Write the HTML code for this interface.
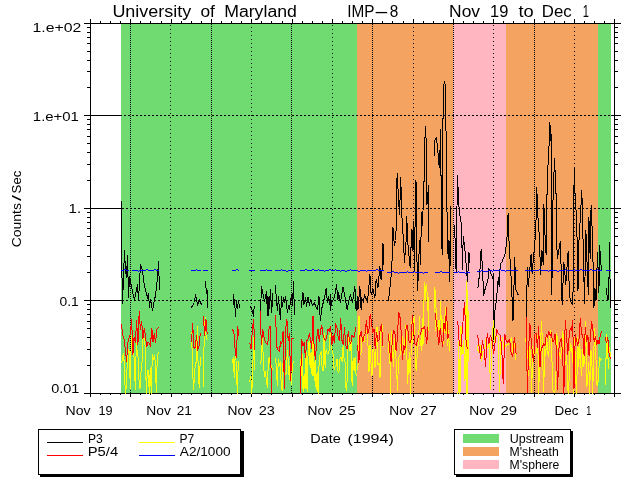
<!DOCTYPE html>
<html><head><meta charset="utf-8"><title>IMP-8 plot</title>
<style>html,body{margin:0;padding:0;background:#fff;overflow:hidden}svg{display:block}</style></head>
<body>
<svg width="640" height="480" viewBox="0 0 640 480" shape-rendering="crispEdges">
<rect x="0" y="0" width="640" height="480" fill="#fff"/>
<rect x="121" y="23" width="236" height="370" fill="#70DB70"/>
<rect x="357" y="23" width="96" height="370" fill="#F4A460"/>
<rect x="453" y="23" width="53" height="370" fill="#FFB6C1"/>
<rect x="506" y="23" width="92" height="370" fill="#F4A460"/>
<rect x="598" y="23" width="13" height="370" fill="#70DB70"/>
<rect x="84" y="115" width="38" height="1" fill="#000"/>
<path d="M124 115.5h2M128 115.5h2M132 115.5h2M136 115.5h2M140 115.5h2M144 115.5h2M148 115.5h2M152 115.5h2M156 115.5h2M160 115.5h2M164 115.5h2M168 115.5h2M172 115.5h2M176 115.5h2M180 115.5h2M184 115.5h2M188 115.5h2M192 115.5h2M196 115.5h2M200 115.5h2M204 115.5h2M208 115.5h2M212 115.5h2M216 115.5h2M220 115.5h2M224 115.5h2M228 115.5h2M232 115.5h2M236 115.5h2M240 115.5h2M244 115.5h2M248 115.5h2M252 115.5h2M256 115.5h2M260 115.5h2M264 115.5h2M268 115.5h2M272 115.5h2M276 115.5h2M280 115.5h2M284 115.5h2M288 115.5h2M292 115.5h2M296 115.5h2M300 115.5h2M304 115.5h2M308 115.5h2M312 115.5h2M316 115.5h2M320 115.5h2M324 115.5h2M328 115.5h2M332 115.5h2M336 115.5h2M340 115.5h2M344 115.5h2M348 115.5h2M352 115.5h2M356 115.5h2M360 115.5h2M364 115.5h2M368 115.5h2M372 115.5h2M376 115.5h2M380 115.5h2M384 115.5h2M388 115.5h2M392 115.5h2M396 115.5h2M400 115.5h2M404 115.5h2M408 115.5h2M412 115.5h2M416 115.5h2M420 115.5h2M424 115.5h2M428 115.5h2M432 115.5h2M436 115.5h2M440 115.5h2M444 115.5h2M448 115.5h2M452 115.5h2M456 115.5h2M460 115.5h2M464 115.5h2M468 115.5h2M472 115.5h2M476 115.5h2M480 115.5h2M484 115.5h2M488 115.5h2M492 115.5h2M496 115.5h2M500 115.5h2M504 115.5h2M508 115.5h2M512 115.5h2M516 115.5h2M520 115.5h2M524 115.5h2M528 115.5h2M532 115.5h2M536 115.5h2M540 115.5h2M544 115.5h2M548 115.5h2M552 115.5h2M556 115.5h2M560 115.5h2M564 115.5h2M568 115.5h2M572 115.5h2M576 115.5h2M580 115.5h2M584 115.5h2M588 115.5h2M592 115.5h2M596 115.5h2M600 115.5h2M604 115.5h2M608 115.5h2" stroke="#000" stroke-width="1" fill="none"/>
<rect x="611" y="115" width="10" height="1" fill="#000"/>
<rect x="84" y="208" width="40" height="1" fill="#000"/>
<path d="M126 208.5h2M130 208.5h2M134 208.5h2M138 208.5h2M142 208.5h2M146 208.5h2M150 208.5h2M154 208.5h2M158 208.5h2M162 208.5h2M166 208.5h2M170 208.5h2M174 208.5h2M178 208.5h2M182 208.5h2M186 208.5h2M190 208.5h2M194 208.5h2M198 208.5h2M202 208.5h2M206 208.5h2M210 208.5h2M214 208.5h2M218 208.5h2M222 208.5h2M226 208.5h2M230 208.5h2M234 208.5h2M238 208.5h2M242 208.5h2M246 208.5h2M250 208.5h2M254 208.5h2M258 208.5h2M262 208.5h2M266 208.5h2M270 208.5h2M274 208.5h2M278 208.5h2M282 208.5h2M286 208.5h2M290 208.5h2M294 208.5h2M298 208.5h2M302 208.5h2M306 208.5h2M310 208.5h2M314 208.5h2M318 208.5h2M322 208.5h2M326 208.5h2M330 208.5h2M334 208.5h2M338 208.5h2M342 208.5h2M346 208.5h2M350 208.5h2M354 208.5h2M358 208.5h2M362 208.5h2M366 208.5h2M370 208.5h2M374 208.5h2M378 208.5h2M382 208.5h2M386 208.5h2M390 208.5h2M394 208.5h2M398 208.5h2M402 208.5h2M406 208.5h2M410 208.5h2M414 208.5h2M418 208.5h2M422 208.5h2M426 208.5h2M430 208.5h2M434 208.5h2M438 208.5h2M442 208.5h2M446 208.5h2M450 208.5h2M454 208.5h2M458 208.5h2M462 208.5h2M466 208.5h2M470 208.5h2M474 208.5h2M478 208.5h2M482 208.5h2M486 208.5h2M490 208.5h2M494 208.5h2M498 208.5h2M502 208.5h2M506 208.5h2M510 208.5h2M514 208.5h2M518 208.5h2M522 208.5h2M526 208.5h2M530 208.5h2M534 208.5h2M538 208.5h2M542 208.5h2M546 208.5h2M550 208.5h2M554 208.5h2M558 208.5h2M562 208.5h2M566 208.5h2M570 208.5h2M574 208.5h2M578 208.5h2M582 208.5h2M586 208.5h2M590 208.5h2M594 208.5h2M598 208.5h2M602 208.5h2M606 208.5h2M610 208.5h2" stroke="#000" stroke-width="1" fill="none"/>
<rect x="611" y="208" width="10" height="1" fill="#000"/>
<rect x="84" y="300" width="40" height="1" fill="#000"/>
<path d="M126 300.5h2M130 300.5h2M134 300.5h2M138 300.5h2M142 300.5h2M146 300.5h2M150 300.5h2M154 300.5h2M158 300.5h2M162 300.5h2M166 300.5h2M170 300.5h2M174 300.5h2M178 300.5h2M182 300.5h2M186 300.5h2M190 300.5h2M194 300.5h2M198 300.5h2M202 300.5h2M206 300.5h2M210 300.5h2M214 300.5h2M218 300.5h2M222 300.5h2M226 300.5h2M230 300.5h2M234 300.5h2M238 300.5h2M242 300.5h2M246 300.5h2M250 300.5h2M254 300.5h2M258 300.5h2M262 300.5h2M266 300.5h2M270 300.5h2M274 300.5h2M278 300.5h2M282 300.5h2M286 300.5h2M290 300.5h2M294 300.5h2M298 300.5h2M302 300.5h2M306 300.5h2M310 300.5h2M314 300.5h2M318 300.5h2M322 300.5h2M326 300.5h2M330 300.5h2M334 300.5h2M338 300.5h2M342 300.5h2M346 300.5h2M350 300.5h2M354 300.5h2M358 300.5h2M362 300.5h2M366 300.5h2M370 300.5h2M374 300.5h2M378 300.5h2M382 300.5h2M386 300.5h2M390 300.5h2M394 300.5h2M398 300.5h2M402 300.5h2M406 300.5h2M410 300.5h2M414 300.5h2M418 300.5h2M422 300.5h2M426 300.5h2M430 300.5h2M434 300.5h2M438 300.5h2M442 300.5h2M446 300.5h2M450 300.5h2M454 300.5h2M458 300.5h2M462 300.5h2M466 300.5h2M470 300.5h2M474 300.5h2M478 300.5h2M482 300.5h2M486 300.5h2M490 300.5h2M494 300.5h2M498 300.5h2M502 300.5h2M506 300.5h2M510 300.5h2M514 300.5h2M518 300.5h2M522 300.5h2M526 300.5h2M530 300.5h2M534 300.5h2M538 300.5h2M542 300.5h2M546 300.5h2M550 300.5h2M554 300.5h2M558 300.5h2M562 300.5h2M566 300.5h2M570 300.5h2M574 300.5h2M578 300.5h2M582 300.5h2M586 300.5h2M590 300.5h2M594 300.5h2M598 300.5h2M602 300.5h2M606 300.5h2M610 300.5h2" stroke="#000" stroke-width="1" fill="none"/>
<rect x="611" y="300" width="10" height="1" fill="#000"/>
<path d="M130.5 24v1M130.5 26v1M130.5 28v1M130.5 30v1M130.5 32v1M130.5 34v1M130.5 36v1M130.5 38v1M130.5 40v1M130.5 42v1M130.5 44v1M130.5 46v1M130.5 48v1M130.5 50v1M130.5 52v1M130.5 54v1M130.5 56v1M130.5 58v1M130.5 60v1M130.5 62v1M130.5 64v1M130.5 66v1M130.5 68v1M130.5 70v1M130.5 72v1M130.5 74v1M130.5 76v1M130.5 78v1M130.5 80v1M130.5 82v1M130.5 84v1M130.5 86v1M130.5 88v1M130.5 90v1M130.5 92v1M130.5 94v1M130.5 96v1M130.5 98v1M130.5 100v1M130.5 102v1M130.5 104v1M130.5 106v1M130.5 108v1M130.5 110v1M130.5 112v1M130.5 114v1M130.5 116v1M130.5 118v1M130.5 120v1M130.5 122v1M130.5 124v1M130.5 126v1M130.5 128v1M130.5 130v1M130.5 132v1M130.5 134v1M130.5 136v1M130.5 138v1M130.5 140v1M130.5 142v1M130.5 144v1M130.5 146v1M130.5 148v1M130.5 150v1M130.5 152v1M130.5 154v1M130.5 156v1M130.5 158v1M130.5 160v1M130.5 162v1M130.5 164v1M130.5 166v1M130.5 168v1M130.5 170v1M130.5 172v1M130.5 174v1M130.5 176v1M130.5 178v1M130.5 180v1M130.5 182v1M130.5 184v1M130.5 186v1M130.5 188v1M130.5 190v1M130.5 192v1M130.5 194v1M130.5 196v1M130.5 198v1M130.5 200v1M130.5 202v1M130.5 204v1M130.5 206v1M130.5 208v1M130.5 210v1M130.5 212v1M130.5 214v1M130.5 216v1M130.5 218v1M130.5 220v1M130.5 222v1M130.5 224v1M130.5 226v1M130.5 228v1M130.5 230v1M130.5 232v1M130.5 234v1M130.5 236v1M130.5 238v1M130.5 240v1M130.5 242v1M130.5 244v1M130.5 246v1M130.5 248v1M130.5 250v1M130.5 252v1M130.5 254v1M130.5 256v1M130.5 258v1M130.5 260v1M130.5 262v1M130.5 264v1M130.5 266v1M130.5 268v1M130.5 270v1M130.5 272v1M130.5 274v1M130.5 276v1M130.5 278v1M130.5 280v1M130.5 282v1M130.5 284v1M130.5 286v1M130.5 288v1M130.5 290v1M130.5 292v1M130.5 294v1M130.5 296v1M130.5 298v1M130.5 300v1M130.5 302v1M130.5 304v1M130.5 306v1M130.5 308v1M130.5 310v1M130.5 312v1M130.5 314v1M130.5 316v1M130.5 318v1M130.5 320v1M130.5 322v1M130.5 324v1M130.5 326v1M130.5 328v1M130.5 330v1M130.5 332v1M130.5 334v1M130.5 336v1M130.5 338v1M130.5 340v1M130.5 342v1M130.5 344v1M130.5 346v1M130.5 348v1M130.5 350v1M130.5 352v1M130.5 354v1M130.5 356v1M130.5 358v1M130.5 360v1M130.5 362v1M130.5 364v1M130.5 366v1M130.5 368v1M130.5 370v1M130.5 372v1M130.5 374v1M130.5 376v1M130.5 378v1M130.5 380v1M130.5 382v1M130.5 384v1M130.5 386v1M130.5 388v1M130.5 390v1M130.5 392v1" stroke="#000" stroke-width="1" fill="none"/>
<path d="M170.5 25v1M170.5 29v1M170.5 33v1M170.5 37v1M170.5 41v1M170.5 45v1M170.5 49v1M170.5 53v1M170.5 57v1M170.5 61v1M170.5 65v1M170.5 69v1M170.5 73v1M170.5 77v1M170.5 81v1M170.5 85v1M170.5 89v1M170.5 93v1M170.5 97v1M170.5 101v1M170.5 105v1M170.5 109v1M170.5 113v1M170.5 117v1M170.5 121v1M170.5 125v1M170.5 129v1M170.5 133v1M170.5 137v1M170.5 141v1M170.5 145v1M170.5 149v1M170.5 153v1M170.5 157v1M170.5 161v1M170.5 165v1M170.5 169v1M170.5 173v1M170.5 177v1M170.5 181v1M170.5 185v1M170.5 189v1M170.5 193v1M170.5 197v1M170.5 201v1M170.5 205v1M170.5 209v1M170.5 213v1M170.5 217v1M170.5 221v1M170.5 225v1M170.5 229v1M170.5 233v1M170.5 237v1M170.5 241v1M170.5 245v1M170.5 249v1M170.5 253v1M170.5 257v1M170.5 261v1M170.5 265v1M170.5 269v1M170.5 273v1M170.5 277v1M170.5 281v1M170.5 285v1M170.5 289v1M170.5 293v1M170.5 297v1M170.5 301v1M170.5 305v1M170.5 309v1M170.5 313v1M170.5 317v1M170.5 321v1M170.5 325v1M170.5 329v1M170.5 333v1M170.5 337v1M170.5 341v1M170.5 345v1M170.5 349v1M170.5 353v1M170.5 357v1M170.5 361v1M170.5 365v1M170.5 369v1M170.5 373v1M170.5 377v1M170.5 381v1M170.5 385v1M170.5 389v1" stroke="#000" stroke-width="1" fill="none"/>
<path d="M211.5 24v1M211.5 26v1M211.5 28v1M211.5 30v1M211.5 32v1M211.5 34v1M211.5 36v1M211.5 38v1M211.5 40v1M211.5 42v1M211.5 44v1M211.5 46v1M211.5 48v1M211.5 50v1M211.5 52v1M211.5 54v1M211.5 56v1M211.5 58v1M211.5 60v1M211.5 62v1M211.5 64v1M211.5 66v1M211.5 68v1M211.5 70v1M211.5 72v1M211.5 74v1M211.5 76v1M211.5 78v1M211.5 80v1M211.5 82v1M211.5 84v1M211.5 86v1M211.5 88v1M211.5 90v1M211.5 92v1M211.5 94v1M211.5 96v1M211.5 98v1M211.5 100v1M211.5 102v1M211.5 104v1M211.5 106v1M211.5 108v1M211.5 110v1M211.5 112v1M211.5 114v1M211.5 116v1M211.5 118v1M211.5 120v1M211.5 122v1M211.5 124v1M211.5 126v1M211.5 128v1M211.5 130v1M211.5 132v1M211.5 134v1M211.5 136v1M211.5 138v1M211.5 140v1M211.5 142v1M211.5 144v1M211.5 146v1M211.5 148v1M211.5 150v1M211.5 152v1M211.5 154v1M211.5 156v1M211.5 158v1M211.5 160v1M211.5 162v1M211.5 164v1M211.5 166v1M211.5 168v1M211.5 170v1M211.5 172v1M211.5 174v1M211.5 176v1M211.5 178v1M211.5 180v1M211.5 182v1M211.5 184v1M211.5 186v1M211.5 188v1M211.5 190v1M211.5 192v1M211.5 194v1M211.5 196v1M211.5 198v1M211.5 200v1M211.5 202v1M211.5 204v1M211.5 206v1M211.5 208v1M211.5 210v1M211.5 212v1M211.5 214v1M211.5 216v1M211.5 218v1M211.5 220v1M211.5 222v1M211.5 224v1M211.5 226v1M211.5 228v1M211.5 230v1M211.5 232v1M211.5 234v1M211.5 236v1M211.5 238v1M211.5 240v1M211.5 242v1M211.5 244v1M211.5 246v1M211.5 248v1M211.5 250v1M211.5 252v1M211.5 254v1M211.5 256v1M211.5 258v1M211.5 260v1M211.5 262v1M211.5 264v1M211.5 266v1M211.5 268v1M211.5 270v1M211.5 272v1M211.5 274v1M211.5 276v1M211.5 278v1M211.5 280v1M211.5 282v1M211.5 284v1M211.5 286v1M211.5 288v1M211.5 290v1M211.5 292v1M211.5 294v1M211.5 296v1M211.5 298v1M211.5 300v1M211.5 302v1M211.5 304v1M211.5 306v1M211.5 308v1M211.5 310v1M211.5 312v1M211.5 314v1M211.5 316v1M211.5 318v1M211.5 320v1M211.5 322v1M211.5 324v1M211.5 326v1M211.5 328v1M211.5 330v1M211.5 332v1M211.5 334v1M211.5 336v1M211.5 338v1M211.5 340v1M211.5 342v1M211.5 344v1M211.5 346v1M211.5 348v1M211.5 350v1M211.5 352v1M211.5 354v1M211.5 356v1M211.5 358v1M211.5 360v1M211.5 362v1M211.5 364v1M211.5 366v1M211.5 368v1M211.5 370v1M211.5 372v1M211.5 374v1M211.5 376v1M211.5 378v1M211.5 380v1M211.5 382v1M211.5 384v1M211.5 386v1M211.5 388v1M211.5 390v1M211.5 392v1" stroke="#000" stroke-width="1" fill="none"/>
<path d="M251.5 27v1M251.5 31v1M251.5 35v1M251.5 39v1M251.5 43v1M251.5 47v1M251.5 51v1M251.5 55v1M251.5 59v1M251.5 63v1M251.5 67v1M251.5 71v1M251.5 75v1M251.5 79v1M251.5 83v1M251.5 87v1M251.5 91v1M251.5 95v1M251.5 99v1M251.5 103v1M251.5 107v1M251.5 111v1M251.5 115v1M251.5 119v1M251.5 123v1M251.5 127v1M251.5 131v1M251.5 135v1M251.5 139v1M251.5 143v1M251.5 147v1M251.5 151v1M251.5 155v1M251.5 159v1M251.5 163v1M251.5 167v1M251.5 171v1M251.5 175v1M251.5 179v1M251.5 183v1M251.5 187v1M251.5 191v1M251.5 195v1M251.5 199v1M251.5 203v1M251.5 207v1M251.5 211v1M251.5 215v1M251.5 219v1M251.5 223v1M251.5 227v1M251.5 231v1M251.5 235v1M251.5 239v1M251.5 243v1M251.5 247v1M251.5 251v1M251.5 255v1M251.5 259v1M251.5 263v1M251.5 267v1M251.5 271v1M251.5 275v1M251.5 279v1M251.5 283v1M251.5 287v1M251.5 291v1M251.5 295v1M251.5 299v1M251.5 303v1M251.5 307v1M251.5 311v1M251.5 315v1M251.5 319v1M251.5 323v1M251.5 327v1M251.5 331v1M251.5 335v1M251.5 339v1M251.5 343v1M251.5 347v1M251.5 351v1M251.5 355v1M251.5 359v1M251.5 363v1M251.5 367v1M251.5 371v1M251.5 375v1M251.5 379v1M251.5 383v1M251.5 387v1M251.5 391v1" stroke="#000" stroke-width="1" fill="none"/>
<path d="M291.5 24v1M291.5 26v1M291.5 28v1M291.5 30v1M291.5 32v1M291.5 34v1M291.5 36v1M291.5 38v1M291.5 40v1M291.5 42v1M291.5 44v1M291.5 46v1M291.5 48v1M291.5 50v1M291.5 52v1M291.5 54v1M291.5 56v1M291.5 58v1M291.5 60v1M291.5 62v1M291.5 64v1M291.5 66v1M291.5 68v1M291.5 70v1M291.5 72v1M291.5 74v1M291.5 76v1M291.5 78v1M291.5 80v1M291.5 82v1M291.5 84v1M291.5 86v1M291.5 88v1M291.5 90v1M291.5 92v1M291.5 94v1M291.5 96v1M291.5 98v1M291.5 100v1M291.5 102v1M291.5 104v1M291.5 106v1M291.5 108v1M291.5 110v1M291.5 112v1M291.5 114v1M291.5 116v1M291.5 118v1M291.5 120v1M291.5 122v1M291.5 124v1M291.5 126v1M291.5 128v1M291.5 130v1M291.5 132v1M291.5 134v1M291.5 136v1M291.5 138v1M291.5 140v1M291.5 142v1M291.5 144v1M291.5 146v1M291.5 148v1M291.5 150v1M291.5 152v1M291.5 154v1M291.5 156v1M291.5 158v1M291.5 160v1M291.5 162v1M291.5 164v1M291.5 166v1M291.5 168v1M291.5 170v1M291.5 172v1M291.5 174v1M291.5 176v1M291.5 178v1M291.5 180v1M291.5 182v1M291.5 184v1M291.5 186v1M291.5 188v1M291.5 190v1M291.5 192v1M291.5 194v1M291.5 196v1M291.5 198v1M291.5 200v1M291.5 202v1M291.5 204v1M291.5 206v1M291.5 208v1M291.5 210v1M291.5 212v1M291.5 214v1M291.5 216v1M291.5 218v1M291.5 220v1M291.5 222v1M291.5 224v1M291.5 226v1M291.5 228v1M291.5 230v1M291.5 232v1M291.5 234v1M291.5 236v1M291.5 238v1M291.5 240v1M291.5 242v1M291.5 244v1M291.5 246v1M291.5 248v1M291.5 250v1M291.5 252v1M291.5 254v1M291.5 256v1M291.5 258v1M291.5 260v1M291.5 262v1M291.5 264v1M291.5 266v1M291.5 268v1M291.5 270v1M291.5 272v1M291.5 274v1M291.5 276v1M291.5 278v1M291.5 280v1M291.5 282v1M291.5 284v1M291.5 286v1M291.5 288v1M291.5 290v1M291.5 292v1M291.5 294v1M291.5 296v1M291.5 298v1M291.5 300v1M291.5 302v1M291.5 304v1M291.5 306v1M291.5 308v1M291.5 310v1M291.5 312v1M291.5 314v1M291.5 316v1M291.5 318v1M291.5 320v1M291.5 322v1M291.5 324v1M291.5 326v1M291.5 328v1M291.5 330v1M291.5 332v1M291.5 334v1M291.5 336v1M291.5 338v1M291.5 340v1M291.5 342v1M291.5 344v1M291.5 346v1M291.5 348v1M291.5 350v1M291.5 352v1M291.5 354v1M291.5 356v1M291.5 358v1M291.5 360v1M291.5 362v1M291.5 364v1M291.5 366v1M291.5 368v1M291.5 370v1M291.5 372v1M291.5 374v1M291.5 376v1M291.5 378v1M291.5 380v1M291.5 382v1M291.5 384v1M291.5 386v1M291.5 388v1M291.5 390v1M291.5 392v1" stroke="#000" stroke-width="1" fill="none"/>
<path d="M332.5 25v1M332.5 29v1M332.5 33v1M332.5 37v1M332.5 41v1M332.5 45v1M332.5 49v1M332.5 53v1M332.5 57v1M332.5 61v1M332.5 65v1M332.5 69v1M332.5 73v1M332.5 77v1M332.5 81v1M332.5 85v1M332.5 89v1M332.5 93v1M332.5 97v1M332.5 101v1M332.5 105v1M332.5 109v1M332.5 113v1M332.5 117v1M332.5 121v1M332.5 125v1M332.5 129v1M332.5 133v1M332.5 137v1M332.5 141v1M332.5 145v1M332.5 149v1M332.5 153v1M332.5 157v1M332.5 161v1M332.5 165v1M332.5 169v1M332.5 173v1M332.5 177v1M332.5 181v1M332.5 185v1M332.5 189v1M332.5 193v1M332.5 197v1M332.5 201v1M332.5 205v1M332.5 209v1M332.5 213v1M332.5 217v1M332.5 221v1M332.5 225v1M332.5 229v1M332.5 233v1M332.5 237v1M332.5 241v1M332.5 245v1M332.5 249v1M332.5 253v1M332.5 257v1M332.5 261v1M332.5 265v1M332.5 269v1M332.5 273v1M332.5 277v1M332.5 281v1M332.5 285v1M332.5 289v1M332.5 293v1M332.5 297v1M332.5 301v1M332.5 305v1M332.5 309v1M332.5 313v1M332.5 317v1M332.5 321v1M332.5 325v1M332.5 329v1M332.5 333v1M332.5 337v1M332.5 341v1M332.5 345v1M332.5 349v1M332.5 353v1M332.5 357v1M332.5 361v1M332.5 365v1M332.5 369v1M332.5 373v1M332.5 377v1M332.5 381v1M332.5 385v1M332.5 389v1" stroke="#000" stroke-width="1" fill="none"/>
<path d="M372.5 24v1M372.5 26v1M372.5 28v1M372.5 30v1M372.5 32v1M372.5 34v1M372.5 36v1M372.5 38v1M372.5 40v1M372.5 42v1M372.5 44v1M372.5 46v1M372.5 48v1M372.5 50v1M372.5 52v1M372.5 54v1M372.5 56v1M372.5 58v1M372.5 60v1M372.5 62v1M372.5 64v1M372.5 66v1M372.5 68v1M372.5 70v1M372.5 72v1M372.5 74v1M372.5 76v1M372.5 78v1M372.5 80v1M372.5 82v1M372.5 84v1M372.5 86v1M372.5 88v1M372.5 90v1M372.5 92v1M372.5 94v1M372.5 96v1M372.5 98v1M372.5 100v1M372.5 102v1M372.5 104v1M372.5 106v1M372.5 108v1M372.5 110v1M372.5 112v1M372.5 114v1M372.5 116v1M372.5 118v1M372.5 120v1M372.5 122v1M372.5 124v1M372.5 126v1M372.5 128v1M372.5 130v1M372.5 132v1M372.5 134v1M372.5 136v1M372.5 138v1M372.5 140v1M372.5 142v1M372.5 144v1M372.5 146v1M372.5 148v1M372.5 150v1M372.5 152v1M372.5 154v1M372.5 156v1M372.5 158v1M372.5 160v1M372.5 162v1M372.5 164v1M372.5 166v1M372.5 168v1M372.5 170v1M372.5 172v1M372.5 174v1M372.5 176v1M372.5 178v1M372.5 180v1M372.5 182v1M372.5 184v1M372.5 186v1M372.5 188v1M372.5 190v1M372.5 192v1M372.5 194v1M372.5 196v1M372.5 198v1M372.5 200v1M372.5 202v1M372.5 204v1M372.5 206v1M372.5 208v1M372.5 210v1M372.5 212v1M372.5 214v1M372.5 216v1M372.5 218v1M372.5 220v1M372.5 222v1M372.5 224v1M372.5 226v1M372.5 228v1M372.5 230v1M372.5 232v1M372.5 234v1M372.5 236v1M372.5 238v1M372.5 240v1M372.5 242v1M372.5 244v1M372.5 246v1M372.5 248v1M372.5 250v1M372.5 252v1M372.5 254v1M372.5 256v1M372.5 258v1M372.5 260v1M372.5 262v1M372.5 264v1M372.5 266v1M372.5 268v1M372.5 270v1M372.5 272v1M372.5 274v1M372.5 276v1M372.5 278v1M372.5 280v1M372.5 282v1M372.5 284v1M372.5 286v1M372.5 288v1M372.5 290v1M372.5 292v1M372.5 294v1M372.5 296v1M372.5 298v1M372.5 300v1M372.5 302v1M372.5 304v1M372.5 306v1M372.5 308v1M372.5 310v1M372.5 312v1M372.5 314v1M372.5 316v1M372.5 318v1M372.5 320v1M372.5 322v1M372.5 324v1M372.5 326v1M372.5 328v1M372.5 330v1M372.5 332v1M372.5 334v1M372.5 336v1M372.5 338v1M372.5 340v1M372.5 342v1M372.5 344v1M372.5 346v1M372.5 348v1M372.5 350v1M372.5 352v1M372.5 354v1M372.5 356v1M372.5 358v1M372.5 360v1M372.5 362v1M372.5 364v1M372.5 366v1M372.5 368v1M372.5 370v1M372.5 372v1M372.5 374v1M372.5 376v1M372.5 378v1M372.5 380v1M372.5 382v1M372.5 384v1M372.5 386v1M372.5 388v1M372.5 390v1M372.5 392v1" stroke="#000" stroke-width="1" fill="none"/>
<path d="M413.5 27v1M413.5 31v1M413.5 35v1M413.5 39v1M413.5 43v1M413.5 47v1M413.5 51v1M413.5 55v1M413.5 59v1M413.5 63v1M413.5 67v1M413.5 71v1M413.5 75v1M413.5 79v1M413.5 83v1M413.5 87v1M413.5 91v1M413.5 95v1M413.5 99v1M413.5 103v1M413.5 107v1M413.5 111v1M413.5 115v1M413.5 119v1M413.5 123v1M413.5 127v1M413.5 131v1M413.5 135v1M413.5 139v1M413.5 143v1M413.5 147v1M413.5 151v1M413.5 155v1M413.5 159v1M413.5 163v1M413.5 167v1M413.5 171v1M413.5 175v1M413.5 179v1M413.5 183v1M413.5 187v1M413.5 191v1M413.5 195v1M413.5 199v1M413.5 203v1M413.5 207v1M413.5 211v1M413.5 215v1M413.5 219v1M413.5 223v1M413.5 227v1M413.5 231v1M413.5 235v1M413.5 239v1M413.5 243v1M413.5 247v1M413.5 251v1M413.5 255v1M413.5 259v1M413.5 263v1M413.5 267v1M413.5 271v1M413.5 275v1M413.5 279v1M413.5 283v1M413.5 287v1M413.5 291v1M413.5 295v1M413.5 299v1M413.5 303v1M413.5 307v1M413.5 311v1M413.5 315v1M413.5 319v1M413.5 323v1M413.5 327v1M413.5 331v1M413.5 335v1M413.5 339v1M413.5 343v1M413.5 347v1M413.5 351v1M413.5 355v1M413.5 359v1M413.5 363v1M413.5 367v1M413.5 371v1M413.5 375v1M413.5 379v1M413.5 383v1M413.5 387v1M413.5 391v1" stroke="#000" stroke-width="1" fill="none"/>
<path d="M453.5 24v1M453.5 26v1M453.5 28v1M453.5 30v1M453.5 32v1M453.5 34v1M453.5 36v1M453.5 38v1M453.5 40v1M453.5 42v1M453.5 44v1M453.5 46v1M453.5 48v1M453.5 50v1M453.5 52v1M453.5 54v1M453.5 56v1M453.5 58v1M453.5 60v1M453.5 62v1M453.5 64v1M453.5 66v1M453.5 68v1M453.5 70v1M453.5 72v1M453.5 74v1M453.5 76v1M453.5 78v1M453.5 80v1M453.5 82v1M453.5 84v1M453.5 86v1M453.5 88v1M453.5 90v1M453.5 92v1M453.5 94v1M453.5 96v1M453.5 98v1M453.5 100v1M453.5 102v1M453.5 104v1M453.5 106v1M453.5 108v1M453.5 110v1M453.5 112v1M453.5 114v1M453.5 116v1M453.5 118v1M453.5 120v1M453.5 122v1M453.5 124v1M453.5 126v1M453.5 128v1M453.5 130v1M453.5 132v1M453.5 134v1M453.5 136v1M453.5 138v1M453.5 140v1M453.5 142v1M453.5 144v1M453.5 146v1M453.5 148v1M453.5 150v1M453.5 152v1M453.5 154v1M453.5 156v1M453.5 158v1M453.5 160v1M453.5 162v1M453.5 164v1M453.5 166v1M453.5 168v1M453.5 170v1M453.5 172v1M453.5 174v1M453.5 176v1M453.5 178v1M453.5 180v1M453.5 182v1M453.5 184v1M453.5 186v1M453.5 188v1M453.5 190v1M453.5 192v1M453.5 194v1M453.5 196v1M453.5 198v1M453.5 200v1M453.5 202v1M453.5 204v1M453.5 206v1M453.5 208v1M453.5 210v1M453.5 212v1M453.5 214v1M453.5 216v1M453.5 218v1M453.5 220v1M453.5 222v1M453.5 224v1M453.5 226v1M453.5 228v1M453.5 230v1M453.5 232v1M453.5 234v1M453.5 236v1M453.5 238v1M453.5 240v1M453.5 242v1M453.5 244v1M453.5 246v1M453.5 248v1M453.5 250v1M453.5 252v1M453.5 254v1M453.5 256v1M453.5 258v1M453.5 260v1M453.5 262v1M453.5 264v1M453.5 266v1M453.5 268v1M453.5 270v1M453.5 272v1M453.5 274v1M453.5 276v1M453.5 278v1M453.5 280v1M453.5 282v1M453.5 284v1M453.5 286v1M453.5 288v1M453.5 290v1M453.5 292v1M453.5 294v1M453.5 296v1M453.5 298v1M453.5 300v1M453.5 302v1M453.5 304v1M453.5 306v1M453.5 308v1M453.5 310v1M453.5 312v1M453.5 314v1M453.5 316v1M453.5 318v1M453.5 320v1M453.5 322v1M453.5 324v1M453.5 326v1M453.5 328v1M453.5 330v1M453.5 332v1M453.5 334v1M453.5 336v1M453.5 338v1M453.5 340v1M453.5 342v1M453.5 344v1M453.5 346v1M453.5 348v1M453.5 350v1M453.5 352v1M453.5 354v1M453.5 356v1M453.5 358v1M453.5 360v1M453.5 362v1M453.5 364v1M453.5 366v1M453.5 368v1M453.5 370v1M453.5 372v1M453.5 374v1M453.5 376v1M453.5 378v1M453.5 380v1M453.5 382v1M453.5 384v1M453.5 386v1M453.5 388v1M453.5 390v1M453.5 392v1" stroke="#000" stroke-width="1" fill="none"/>
<path d="M493.5 25v1M493.5 29v1M493.5 33v1M493.5 37v1M493.5 41v1M493.5 45v1M493.5 49v1M493.5 53v1M493.5 57v1M493.5 61v1M493.5 65v1M493.5 69v1M493.5 73v1M493.5 77v1M493.5 81v1M493.5 85v1M493.5 89v1M493.5 93v1M493.5 97v1M493.5 101v1M493.5 105v1M493.5 109v1M493.5 113v1M493.5 117v1M493.5 121v1M493.5 125v1M493.5 129v1M493.5 133v1M493.5 137v1M493.5 141v1M493.5 145v1M493.5 149v1M493.5 153v1M493.5 157v1M493.5 161v1M493.5 165v1M493.5 169v1M493.5 173v1M493.5 177v1M493.5 181v1M493.5 185v1M493.5 189v1M493.5 193v1M493.5 197v1M493.5 201v1M493.5 205v1M493.5 209v1M493.5 213v1M493.5 217v1M493.5 221v1M493.5 225v1M493.5 229v1M493.5 233v1M493.5 237v1M493.5 241v1M493.5 245v1M493.5 249v1M493.5 253v1M493.5 257v1M493.5 261v1M493.5 265v1M493.5 269v1M493.5 273v1M493.5 277v1M493.5 281v1M493.5 285v1M493.5 289v1M493.5 293v1M493.5 297v1M493.5 301v1M493.5 305v1M493.5 309v1M493.5 313v1M493.5 317v1M493.5 321v1M493.5 325v1M493.5 329v1M493.5 333v1M493.5 337v1M493.5 341v1M493.5 345v1M493.5 349v1M493.5 353v1M493.5 357v1M493.5 361v1M493.5 365v1M493.5 369v1M493.5 373v1M493.5 377v1M493.5 381v1M493.5 385v1M493.5 389v1" stroke="#000" stroke-width="1" fill="none"/>
<path d="M534.5 24v1M534.5 26v1M534.5 28v1M534.5 30v1M534.5 32v1M534.5 34v1M534.5 36v1M534.5 38v1M534.5 40v1M534.5 42v1M534.5 44v1M534.5 46v1M534.5 48v1M534.5 50v1M534.5 52v1M534.5 54v1M534.5 56v1M534.5 58v1M534.5 60v1M534.5 62v1M534.5 64v1M534.5 66v1M534.5 68v1M534.5 70v1M534.5 72v1M534.5 74v1M534.5 76v1M534.5 78v1M534.5 80v1M534.5 82v1M534.5 84v1M534.5 86v1M534.5 88v1M534.5 90v1M534.5 92v1M534.5 94v1M534.5 96v1M534.5 98v1M534.5 100v1M534.5 102v1M534.5 104v1M534.5 106v1M534.5 108v1M534.5 110v1M534.5 112v1M534.5 114v1M534.5 116v1M534.5 118v1M534.5 120v1M534.5 122v1M534.5 124v1M534.5 126v1M534.5 128v1M534.5 130v1M534.5 132v1M534.5 134v1M534.5 136v1M534.5 138v1M534.5 140v1M534.5 142v1M534.5 144v1M534.5 146v1M534.5 148v1M534.5 150v1M534.5 152v1M534.5 154v1M534.5 156v1M534.5 158v1M534.5 160v1M534.5 162v1M534.5 164v1M534.5 166v1M534.5 168v1M534.5 170v1M534.5 172v1M534.5 174v1M534.5 176v1M534.5 178v1M534.5 180v1M534.5 182v1M534.5 184v1M534.5 186v1M534.5 188v1M534.5 190v1M534.5 192v1M534.5 194v1M534.5 196v1M534.5 198v1M534.5 200v1M534.5 202v1M534.5 204v1M534.5 206v1M534.5 208v1M534.5 210v1M534.5 212v1M534.5 214v1M534.5 216v1M534.5 218v1M534.5 220v1M534.5 222v1M534.5 224v1M534.5 226v1M534.5 228v1M534.5 230v1M534.5 232v1M534.5 234v1M534.5 236v1M534.5 238v1M534.5 240v1M534.5 242v1M534.5 244v1M534.5 246v1M534.5 248v1M534.5 250v1M534.5 252v1M534.5 254v1M534.5 256v1M534.5 258v1M534.5 260v1M534.5 262v1M534.5 264v1M534.5 266v1M534.5 268v1M534.5 270v1M534.5 272v1M534.5 274v1M534.5 276v1M534.5 278v1M534.5 280v1M534.5 282v1M534.5 284v1M534.5 286v1M534.5 288v1M534.5 290v1M534.5 292v1M534.5 294v1M534.5 296v1M534.5 298v1M534.5 300v1M534.5 302v1M534.5 304v1M534.5 306v1M534.5 308v1M534.5 310v1M534.5 312v1M534.5 314v1M534.5 316v1M534.5 318v1M534.5 320v1M534.5 322v1M534.5 324v1M534.5 326v1M534.5 328v1M534.5 330v1M534.5 332v1M534.5 334v1M534.5 336v1M534.5 338v1M534.5 340v1M534.5 342v1M534.5 344v1M534.5 346v1M534.5 348v1M534.5 350v1M534.5 352v1M534.5 354v1M534.5 356v1M534.5 358v1M534.5 360v1M534.5 362v1M534.5 364v1M534.5 366v1M534.5 368v1M534.5 370v1M534.5 372v1M534.5 374v1M534.5 376v1M534.5 378v1M534.5 380v1M534.5 382v1M534.5 384v1M534.5 386v1M534.5 388v1M534.5 390v1M534.5 392v1" stroke="#000" stroke-width="1" fill="none"/>
<path d="M574.5 27v1M574.5 31v1M574.5 35v1M574.5 39v1M574.5 43v1M574.5 47v1M574.5 51v1M574.5 55v1M574.5 59v1M574.5 63v1M574.5 67v1M574.5 71v1M574.5 75v1M574.5 79v1M574.5 83v1M574.5 87v1M574.5 91v1M574.5 95v1M574.5 99v1M574.5 103v1M574.5 107v1M574.5 111v1M574.5 115v1M574.5 119v1M574.5 123v1M574.5 127v1M574.5 131v1M574.5 135v1M574.5 139v1M574.5 143v1M574.5 147v1M574.5 151v1M574.5 155v1M574.5 159v1M574.5 163v1M574.5 167v1M574.5 171v1M574.5 175v1M574.5 179v1M574.5 183v1M574.5 187v1M574.5 191v1M574.5 195v1M574.5 199v1M574.5 203v1M574.5 207v1M574.5 211v1M574.5 215v1M574.5 219v1M574.5 223v1M574.5 227v1M574.5 231v1M574.5 235v1M574.5 239v1M574.5 243v1M574.5 247v1M574.5 251v1M574.5 255v1M574.5 259v1M574.5 263v1M574.5 267v1M574.5 271v1M574.5 275v1M574.5 279v1M574.5 283v1M574.5 287v1M574.5 291v1M574.5 295v1M574.5 299v1M574.5 303v1M574.5 307v1M574.5 311v1M574.5 315v1M574.5 319v1M574.5 323v1M574.5 327v1M574.5 331v1M574.5 335v1M574.5 339v1M574.5 343v1M574.5 347v1M574.5 351v1M574.5 355v1M574.5 359v1M574.5 363v1M574.5 367v1M574.5 371v1M574.5 375v1M574.5 379v1M574.5 383v1M574.5 387v1M574.5 391v1" stroke="#000" stroke-width="1" fill="none"/>
<rect x="90" y="19" width="1" height="375" fill="#000"/>
<rect x="614" y="19" width="1" height="375" fill="#000"/>
<rect x="84" y="23" width="537" height="1" fill="#000"/>
<rect x="84" y="393" width="531" height="1" fill="#000"/>
<rect x="90" y="19" width="1" height="4" fill="#000"/>
<rect x="90" y="393" width="1" height="4" fill="#000"/>
<rect x="100" y="21" width="1" height="2" fill="#000"/>
<rect x="100" y="393" width="1" height="2" fill="#000"/>
<rect x="110" y="21" width="1" height="2" fill="#000"/>
<rect x="110" y="393" width="1" height="2" fill="#000"/>
<rect x="120" y="21" width="1" height="2" fill="#000"/>
<rect x="120" y="393" width="1" height="2" fill="#000"/>
<rect x="130" y="19" width="1" height="4" fill="#000"/>
<rect x="130" y="393" width="1" height="4" fill="#000"/>
<rect x="140" y="21" width="1" height="2" fill="#000"/>
<rect x="140" y="393" width="1" height="2" fill="#000"/>
<rect x="150" y="21" width="1" height="2" fill="#000"/>
<rect x="150" y="393" width="1" height="2" fill="#000"/>
<rect x="161" y="21" width="1" height="2" fill="#000"/>
<rect x="161" y="393" width="1" height="2" fill="#000"/>
<rect x="171" y="19" width="1" height="4" fill="#000"/>
<rect x="171" y="393" width="1" height="4" fill="#000"/>
<rect x="181" y="21" width="1" height="2" fill="#000"/>
<rect x="181" y="393" width="1" height="2" fill="#000"/>
<rect x="191" y="21" width="1" height="2" fill="#000"/>
<rect x="191" y="393" width="1" height="2" fill="#000"/>
<rect x="201" y="21" width="1" height="2" fill="#000"/>
<rect x="201" y="393" width="1" height="2" fill="#000"/>
<rect x="211" y="19" width="1" height="4" fill="#000"/>
<rect x="211" y="393" width="1" height="4" fill="#000"/>
<rect x="221" y="21" width="1" height="2" fill="#000"/>
<rect x="221" y="393" width="1" height="2" fill="#000"/>
<rect x="231" y="21" width="1" height="2" fill="#000"/>
<rect x="231" y="393" width="1" height="2" fill="#000"/>
<rect x="241" y="21" width="1" height="2" fill="#000"/>
<rect x="241" y="393" width="1" height="2" fill="#000"/>
<rect x="251" y="19" width="1" height="4" fill="#000"/>
<rect x="251" y="393" width="1" height="4" fill="#000"/>
<rect x="261" y="21" width="1" height="2" fill="#000"/>
<rect x="261" y="393" width="1" height="2" fill="#000"/>
<rect x="271" y="21" width="1" height="2" fill="#000"/>
<rect x="271" y="393" width="1" height="2" fill="#000"/>
<rect x="282" y="21" width="1" height="2" fill="#000"/>
<rect x="282" y="393" width="1" height="2" fill="#000"/>
<rect x="292" y="19" width="1" height="4" fill="#000"/>
<rect x="292" y="393" width="1" height="4" fill="#000"/>
<rect x="302" y="21" width="1" height="2" fill="#000"/>
<rect x="302" y="393" width="1" height="2" fill="#000"/>
<rect x="312" y="21" width="1" height="2" fill="#000"/>
<rect x="312" y="393" width="1" height="2" fill="#000"/>
<rect x="322" y="21" width="1" height="2" fill="#000"/>
<rect x="322" y="393" width="1" height="2" fill="#000"/>
<rect x="332" y="19" width="1" height="4" fill="#000"/>
<rect x="332" y="393" width="1" height="4" fill="#000"/>
<rect x="342" y="21" width="1" height="2" fill="#000"/>
<rect x="342" y="393" width="1" height="2" fill="#000"/>
<rect x="352" y="21" width="1" height="2" fill="#000"/>
<rect x="352" y="393" width="1" height="2" fill="#000"/>
<rect x="362" y="21" width="1" height="2" fill="#000"/>
<rect x="362" y="393" width="1" height="2" fill="#000"/>
<rect x="372" y="19" width="1" height="4" fill="#000"/>
<rect x="372" y="393" width="1" height="4" fill="#000"/>
<rect x="382" y="21" width="1" height="2" fill="#000"/>
<rect x="382" y="393" width="1" height="2" fill="#000"/>
<rect x="392" y="21" width="1" height="2" fill="#000"/>
<rect x="392" y="393" width="1" height="2" fill="#000"/>
<rect x="403" y="21" width="1" height="2" fill="#000"/>
<rect x="403" y="393" width="1" height="2" fill="#000"/>
<rect x="413" y="19" width="1" height="4" fill="#000"/>
<rect x="413" y="393" width="1" height="4" fill="#000"/>
<rect x="423" y="21" width="1" height="2" fill="#000"/>
<rect x="423" y="393" width="1" height="2" fill="#000"/>
<rect x="433" y="21" width="1" height="2" fill="#000"/>
<rect x="433" y="393" width="1" height="2" fill="#000"/>
<rect x="443" y="21" width="1" height="2" fill="#000"/>
<rect x="443" y="393" width="1" height="2" fill="#000"/>
<rect x="453" y="19" width="1" height="4" fill="#000"/>
<rect x="453" y="393" width="1" height="4" fill="#000"/>
<rect x="463" y="21" width="1" height="2" fill="#000"/>
<rect x="463" y="393" width="1" height="2" fill="#000"/>
<rect x="473" y="21" width="1" height="2" fill="#000"/>
<rect x="473" y="393" width="1" height="2" fill="#000"/>
<rect x="483" y="21" width="1" height="2" fill="#000"/>
<rect x="483" y="393" width="1" height="2" fill="#000"/>
<rect x="493" y="19" width="1" height="4" fill="#000"/>
<rect x="493" y="393" width="1" height="4" fill="#000"/>
<rect x="503" y="21" width="1" height="2" fill="#000"/>
<rect x="503" y="393" width="1" height="2" fill="#000"/>
<rect x="513" y="21" width="1" height="2" fill="#000"/>
<rect x="513" y="393" width="1" height="2" fill="#000"/>
<rect x="524" y="21" width="1" height="2" fill="#000"/>
<rect x="524" y="393" width="1" height="2" fill="#000"/>
<rect x="534" y="19" width="1" height="4" fill="#000"/>
<rect x="534" y="393" width="1" height="4" fill="#000"/>
<rect x="544" y="21" width="1" height="2" fill="#000"/>
<rect x="544" y="393" width="1" height="2" fill="#000"/>
<rect x="554" y="21" width="1" height="2" fill="#000"/>
<rect x="554" y="393" width="1" height="2" fill="#000"/>
<rect x="564" y="21" width="1" height="2" fill="#000"/>
<rect x="564" y="393" width="1" height="2" fill="#000"/>
<rect x="574" y="19" width="1" height="4" fill="#000"/>
<rect x="574" y="393" width="1" height="4" fill="#000"/>
<rect x="584" y="21" width="1" height="2" fill="#000"/>
<rect x="584" y="393" width="1" height="2" fill="#000"/>
<rect x="594" y="21" width="1" height="2" fill="#000"/>
<rect x="594" y="393" width="1" height="2" fill="#000"/>
<rect x="604" y="21" width="1" height="2" fill="#000"/>
<rect x="604" y="393" width="1" height="2" fill="#000"/>
<rect x="614" y="19" width="1" height="4" fill="#000"/>
<rect x="614" y="393" width="1" height="4" fill="#000"/>
<rect x="84" y="393" width="6" height="1" fill="#000"/>
<rect x="614" y="393" width="7" height="1" fill="#000"/>
<rect x="87" y="365" width="3" height="1" fill="#000"/>
<rect x="614" y="365" width="4" height="1" fill="#000"/>
<rect x="87" y="349" width="3" height="1" fill="#000"/>
<rect x="614" y="349" width="4" height="1" fill="#000"/>
<rect x="87" y="337" width="3" height="1" fill="#000"/>
<rect x="614" y="337" width="4" height="1" fill="#000"/>
<rect x="87" y="328" width="3" height="1" fill="#000"/>
<rect x="614" y="328" width="4" height="1" fill="#000"/>
<rect x="87" y="321" width="3" height="1" fill="#000"/>
<rect x="614" y="321" width="4" height="1" fill="#000"/>
<rect x="87" y="314" width="3" height="1" fill="#000"/>
<rect x="614" y="314" width="4" height="1" fill="#000"/>
<rect x="87" y="309" width="3" height="1" fill="#000"/>
<rect x="614" y="309" width="4" height="1" fill="#000"/>
<rect x="87" y="304" width="3" height="1" fill="#000"/>
<rect x="614" y="304" width="4" height="1" fill="#000"/>
<rect x="84" y="300" width="6" height="1" fill="#000"/>
<rect x="614" y="300" width="7" height="1" fill="#000"/>
<rect x="87" y="272" width="3" height="1" fill="#000"/>
<rect x="614" y="272" width="4" height="1" fill="#000"/>
<rect x="87" y="256" width="3" height="1" fill="#000"/>
<rect x="614" y="256" width="4" height="1" fill="#000"/>
<rect x="87" y="245" width="3" height="1" fill="#000"/>
<rect x="614" y="245" width="4" height="1" fill="#000"/>
<rect x="87" y="236" width="3" height="1" fill="#000"/>
<rect x="614" y="236" width="4" height="1" fill="#000"/>
<rect x="87" y="228" width="3" height="1" fill="#000"/>
<rect x="614" y="228" width="4" height="1" fill="#000"/>
<rect x="87" y="222" width="3" height="1" fill="#000"/>
<rect x="614" y="222" width="4" height="1" fill="#000"/>
<rect x="87" y="217" width="3" height="1" fill="#000"/>
<rect x="614" y="217" width="4" height="1" fill="#000"/>
<rect x="87" y="212" width="3" height="1" fill="#000"/>
<rect x="614" y="212" width="4" height="1" fill="#000"/>
<rect x="84" y="208" width="6" height="1" fill="#000"/>
<rect x="614" y="208" width="7" height="1" fill="#000"/>
<rect x="87" y="180" width="3" height="1" fill="#000"/>
<rect x="614" y="180" width="4" height="1" fill="#000"/>
<rect x="87" y="164" width="3" height="1" fill="#000"/>
<rect x="614" y="164" width="4" height="1" fill="#000"/>
<rect x="87" y="152" width="3" height="1" fill="#000"/>
<rect x="614" y="152" width="4" height="1" fill="#000"/>
<rect x="87" y="143" width="3" height="1" fill="#000"/>
<rect x="614" y="143" width="4" height="1" fill="#000"/>
<rect x="87" y="136" width="3" height="1" fill="#000"/>
<rect x="614" y="136" width="4" height="1" fill="#000"/>
<rect x="87" y="129" width="3" height="1" fill="#000"/>
<rect x="614" y="129" width="4" height="1" fill="#000"/>
<rect x="87" y="124" width="3" height="1" fill="#000"/>
<rect x="614" y="124" width="4" height="1" fill="#000"/>
<rect x="87" y="119" width="3" height="1" fill="#000"/>
<rect x="614" y="119" width="4" height="1" fill="#000"/>
<rect x="84" y="115" width="6" height="1" fill="#000"/>
<rect x="614" y="115" width="7" height="1" fill="#000"/>
<rect x="87" y="87" width="3" height="1" fill="#000"/>
<rect x="614" y="87" width="4" height="1" fill="#000"/>
<rect x="87" y="71" width="3" height="1" fill="#000"/>
<rect x="614" y="71" width="4" height="1" fill="#000"/>
<rect x="87" y="60" width="3" height="1" fill="#000"/>
<rect x="614" y="60" width="4" height="1" fill="#000"/>
<rect x="87" y="51" width="3" height="1" fill="#000"/>
<rect x="614" y="51" width="4" height="1" fill="#000"/>
<rect x="87" y="43" width="3" height="1" fill="#000"/>
<rect x="614" y="43" width="4" height="1" fill="#000"/>
<rect x="87" y="37" width="3" height="1" fill="#000"/>
<rect x="614" y="37" width="4" height="1" fill="#000"/>
<rect x="87" y="32" width="3" height="1" fill="#000"/>
<rect x="614" y="32" width="4" height="1" fill="#000"/>
<rect x="87" y="27" width="3" height="1" fill="#000"/>
<rect x="614" y="27" width="4" height="1" fill="#000"/>
<clipPath id="c"><rect x="91" y="24" width="523" height="370"/></clipPath>
<g clip-path="url(#c)">
<polyline points="121.5,201.5 121.5,250.5 122.5,303.5 124.5,250.5 125.5,270.5 126.5,277.5 127.5,255.5 128.5,297.5 129.5,276.5 132.5,291.5 134.5,300.5 135.5,294.5 137.5,284.5 138.5,300.5 140.5,264.5 142.5,270.5 144.5,286.5 147.5,297.5 148.5,293.5 149.5,307.5 150.5,299.5 152.5,310.5 154.5,299.5 155.5,295.5 157.5,277.5 158.5,261.5 159.5,289.5" fill="none" stroke="#000" stroke-width="1" stroke-linecap="square"/>
<polyline points="191.5,307.5 194.5,302.5 195.5,294.5 197.5,304.5 199.5,300.5 201.5,304.5" fill="none" stroke="#000" stroke-width="1" stroke-linecap="square"/>
<polyline points="205.5,281.5 206.5,293.5 207.5,290.5 207.5,307.5" fill="none" stroke="#000" stroke-width="1" stroke-linecap="square"/>
<polyline points="233.5,294.5 233.5,304.5 234.5,299.5 235.5,316.5 236.5,300.5 237.5,308.5 238.5,300.5 239.5,307.5" fill="none" stroke="#000" stroke-width="1" stroke-linecap="square"/>
<polyline points="250.5,306.5 252.5,311.5 253.5,316.5 253.5,311.5 254.5,306.5" fill="none" stroke="#000" stroke-width="1" stroke-linecap="square"/>
<polyline points="260.5,311.5 261.5,286.5 263.5,296.5 264.5,301.5 266.5,291.5 267.5,315.5 268.0,296.5 268.5,315.5 270.5,289.5 271.5,312.5 272.5,293.5 273.0,306.5" fill="none" stroke="#000" stroke-width="1" stroke-linecap="square"/>
<polyline points="275.5,285.5 276.5,301.5 277.5,310.5 278.5,296.5 279.5,310.5 280.5,319.5 281.5,296.5 282.5,306.5 283.5,297.5 284.5,302.5 285.5,296.5 287.5,312.5 288.5,306.5 289.5,308.5 291.5,294.5 292.5,305.5 293.5,281.5 294.5,314.5" fill="none" stroke="#000" stroke-width="1" stroke-linecap="square"/>
<polyline points="301.1,307.5 303.0,292.5 304.0,304.5 305.5,297.5 306.5,306.5 308.0,297.5 309.5,305.5 310.5,299.5 312.5,305.5 314.5,302.5 315.5,306.5 317.5,309.5 319.0,296.5 319.5,309.5 320.5,320.5 321.5,309.5 324.5,297.5 326.1,288.5 327.5,302.5 328.5,296.5 329.5,304.5 330.5,294.5 330.5,310.5 331.5,302.5 334.5,297.5 336.5,284.5 338.0,299.5 338.5,292.5 340.5,302.5 343.0,287.5 345.5,299.5 347.1,309.5 349.5,297.5 350.5,295.5 352.5,302.5 354.9,286.5 356.1,310.5 357.5,296.5 358.0,309.5 359.9,286.5 361.1,309.5 361.5,297.5 363.5,302.5 364.5,294.5 367.5,302.5 369.9,274.5 371.1,294.5 373.0,289.5 374.9,297.5 376.1,279.5 378.0,287.5 379.9,266.5 381.1,279.5 382.5,266.5 383.0,243.5 383.9,264.5" fill="none" stroke="#000" stroke-width="1" stroke-linecap="square"/>
<polyline points="388.5,300.5 389.5,291.5 391.5,272.5 392.5,250.5 393.0,227.5 393.5,236.5 394.5,245.5 395.5,240.5 396.1,229.5 397.1,173.5 398.9,204.5 399.5,214.5 400.8,177.5 401.5,209.5 402.5,225.5 403.5,242.5 404.5,262.5 406.1,240.5 406.8,216.5 407.5,238.5 408.5,250.5 410.2,267.5 411.1,245.5 412.0,229.5 413.0,250.5 413.9,221.5 414.1,270.5 416.0,180.5 416.5,240.5 417.7,290.5 419.5,240.5 420.5,264.5 421.5,212.5 422.5,225.5 424.2,176.5 424.8,139.5 425.8,126.5 426.5,165.5 427.0,204.5 428.5,185.5 428.9,241.5" fill="none" stroke="#000" stroke-width="1" stroke-linecap="square"/>
<polyline points="435.0,155.5 434.9,140.5 436.1,137.5 437.5,145.5 438.0,152.5 439.2,167.5 440.0,150.5 440.8,129.5 441.1,195.5 442.1,254.5 442.9,126.5 443.5,86.5 444.5,81.5 445.5,85.5 446.8,200.5 447.5,240.5 448.2,258.5 449.0,240.5 449.9,281.5 450.5,206.5" fill="none" stroke="#000" stroke-width="1" stroke-linecap="square"/>
<polyline points="454.5,225.5 455.5,250.5 456.1,271.5 457.0,206.5 457.5,175.5 458.9,206.5 460.0,215.5 461.5,225.5 462.5,269.5 463.2,236.5 464.5,245.5 465.5,255.5 466.5,270.5 467.5,281.5 468.9,252.5 470.0,262.5" fill="none" stroke="#000" stroke-width="1" stroke-linecap="square"/>
<polyline points="478.0,287.5 479.9,270.5 481.1,249.5 482.5,266.5 483.5,295.5 485.5,287.5 488.0,279.5 488.9,268.5 492.5,277.5 493.5,274.5 493.5,300.5 494.0,339.5 494.9,310.5 496.5,299.5 498.3,277.5 499.2,286.5 499.9,269.5 500.8,263.5 501.8,262.5 504.9,254.5 505.5,250.5 506.8,241.5 508.1,213.5 509.0,240.5 509.5,249.5 511.1,277.5 511.5,284.5 513.0,320.5 514.8,257.5 515.5,288.5 518.0,294.5" fill="none" stroke="#000" stroke-width="1" stroke-linecap="square"/>
<polyline points="526.1,326.5 527.4,267.5 528.3,286.5 531.1,254.5 532.1,273.5 534.9,241.5 535.8,228.5 536.8,187.5 537.5,210.5 538.5,225.5 539.5,238.5 540.5,274.5 542.0,250.5 543.3,264.5 543.9,204.5 545.2,240.5 546.1,254.5 546.7,225.5 547.1,186.5 548.4,156.5 548.5,160.5 549.9,122.5 550.8,140.5 551.8,134.5 551.8,294.5 553.0,200.5 554.5,158.5 556.1,195.5 556.1,230.5 557.4,258.5 560.2,241.5 561.5,277.5 562.1,304.5 563.9,262.5 565.8,284.5 568.1,251.5 569.5,296.5 571.5,303.5 572.9,304.5 573.7,217.5 574.2,167.5 575.2,199.5 576.5,216.5 577.1,240.5 578.0,290.5 578.9,241.5 579.9,225.5 581.8,190.5 582.7,225.5 583.5,260.5 584.5,303.5 585.9,230.5 586.5,249.5 588.3,294.5 588.9,217.5 590.2,258.5 591.1,205.5 592.5,236.5 593.9,307.5 595.0,288.5 596.0,300.5 597.5,252.5 598.9,292.5 599.7,245.5 600.5,258.5 601.5,270.5" fill="none" stroke="#000" stroke-width="1" stroke-linecap="square"/>
<polyline points="606.5,288.5 607.0,294.5 608.0,300.5 608.9,285.5 609.5,242.5 610.0,278.5 610.5,307.5" fill="none" stroke="#000" stroke-width="1" stroke-linecap="square"/>
<polyline points="121.3,362.4 122.3,360.3 123.3,352.6 124.3,363.6 125.3,393.5 126.3,387.4 127.3,362.0 128.3,348.9 129.3,352.1 130.3,388.5 131.3,335.0 132.3,342.3 133.3,356.0 134.3,357.9 135.3,390.2 136.3,342.3 137.3,352.7 138.3,358.8 139.3,388.7 140.3,387.5 141.3,365.6 142.3,360.6 143.3,329.8 144.3,341.2 145.3,346.6 146.3,393.5 147.3,370.7 148.3,370.4 149.3,393.5 150.3,367.7 151.3,393.5 152.3,354.2 153.3,360.0 154.3,355.5 155.3,362.0 156.3,392.5 157.3,357.4 158.3,352.5" fill="none" stroke="#FFFF00" stroke-width="1" stroke-linecap="square"/>
<polyline points="191.3,332.5 192.3,353.9 193.3,390.1 194.3,380.1 195.3,363.6 196.3,362.2 197.3,326.1 198.3,375.4 199.3,387.8 200.3,357.9" fill="none" stroke="#FFFF00" stroke-width="1" stroke-linecap="square"/>
<polyline points="203.2,386.8 204.2,338.0 205.2,317.0 206.2,338.9 207.2,339.0" fill="none" stroke="#FFFF00" stroke-width="1" stroke-linecap="square"/>
<polyline points="232.3,362.4 233.3,357.3 234.3,378.0 235.3,351.0 236.3,364.4 237.3,393.5 238.3,361.6" fill="none" stroke="#FFFF00" stroke-width="1" stroke-linecap="square"/>
<polyline points="249.8,381.3 250.8,376.0 251.8,393.5 252.8,366.1 253.8,337.2 254.8,369.1" fill="none" stroke="#FFFF00" stroke-width="1" stroke-linecap="square"/>
<polyline points="260.4,363.6 261.4,358.9 262.4,335.0 263.4,362.7 264.4,376.9 265.4,371.1 266.4,381.0 267.4,388.0 268.4,359.6 269.4,357.8 270.4,366.4 271.4,365.8 272.4,370.0" fill="none" stroke="#FFFF00" stroke-width="1" stroke-linecap="square"/>
<polyline points="275.3,358.6 276.3,364.4 277.3,386.3 278.3,358.7 279.3,366.0 280.3,361.4 281.3,387.9 282.3,391.3 283.3,351.3 284.3,377.9 285.3,373.6 286.3,373.8 287.3,349.9 288.3,361.8 289.3,379.7 290.3,360.9 291.3,384.8 292.3,368.9 293.3,361.0" fill="none" stroke="#FFFF00" stroke-width="1" stroke-linecap="square"/>
<polyline points="300.1,359.5 301.1,376.2 302.1,354.2 303.1,392.1 304.1,374.4 305.1,389.4 306.1,351.9 307.1,391.9 308.1,352.3 309.1,341.5 310.1,367.5 311.1,351.8 312.1,376.4 313.1,325.0 314.1,380.8 315.1,360.0 316.1,389.8 317.1,372.3 318.1,393.5 319.1,363.5 320.1,354.3 321.1,352.3 322.1,367.5 323.1,370.7 324.1,333.2 325.1,368.2 326.1,349.0 327.1,353.3 328.1,353.6 329.1,350.3 330.1,333.6 331.1,337.4 332.1,351.6 333.1,353.8 334.1,369.4 335.1,366.9 336.1,365.8 337.1,358.6 338.1,372.5 339.1,371.0 340.1,357.9 341.1,357.7 342.1,361.6 343.1,345.1 344.1,359.2 345.1,362.2 346.1,390.5 347.1,380.8 348.1,336.0 349.1,345.5 350.1,351.4 351.1,340.3 352.1,385.8 353.1,358.4 354.1,370.6 355.1,356.7 356.1,375.6" fill="none" stroke="#FFFF00" stroke-width="1" stroke-linecap="square"/>
<polyline points="357.0,369.9 358.0,365.3 359.0,315.8 360.0,354.9 361.0,353.2 362.0,338.6 363.0,336.4 364.0,342.0 365.0,333.2 366.0,333.3 367.0,330.4 368.0,345.9 369.0,371.7 370.0,345.0 371.0,362.5 372.0,375.5 373.0,349.0 374.0,351.8 375.0,367.5 376.0,346.3 377.0,326.8 378.0,364.9 379.0,363.3 380.0,377.9 381.0,326.3 382.0,325.2 383.0,346.1" fill="none" stroke="#FFFF00" stroke-width="1" stroke-linecap="square"/>
<polyline points="388.5,353.0 389.5,334.5 390.5,393.5 391.5,331.3 392.5,349.1 393.5,366.9 394.5,338.0 395.5,351.7 396.5,365.1 397.5,391.4 398.5,358.8 399.5,355.1 400.5,354.9 401.5,334.1 402.5,337.1 403.5,350.9 404.5,354.7 405.5,324.9 406.5,335.4 407.5,383.8 408.5,366.0 409.5,352.3 410.5,393.5 411.5,321.2 412.5,343.5 413.5,321.2 414.5,315.7 415.5,368.2 416.5,370.2 417.5,347.6 418.5,345.0 419.5,316.3" fill="none" stroke="#FFFF00" stroke-width="1" stroke-linecap="square"/>
<polyline points="477.0,345.2 478.5,353.3 480.0,344.4 481.5,361.3 483.0,351.3 484.5,351.0 486.0,338.6 487.5,349.2 489.0,341.8 490.5,388.8 492.0,340.4 493.5,320.5 495.0,343.2 496.5,334.7 498.0,336.6 499.5,392.0 501.0,342.2 502.5,338.4 504.0,349.4 505.5,346.3 507.0,344.3 508.5,344.5 510.0,340.9 511.5,338.3 513.0,353.2 514.5,342.7 516.0,359.4" fill="none" stroke="#FFFF00" stroke-width="1" stroke-linecap="square"/>
<polyline points="525.7,338.0 526.7,350.0 527.7,351.3 528.7,375.9 529.7,346.5 530.7,356.1 531.7,393.2 532.7,346.3 533.7,357.8 534.7,352.1 535.7,352.2 536.7,352.5 537.7,335.4 538.7,393.5 539.7,356.8 540.7,339.0 541.7,321.5 542.7,359.2 543.7,392.2 544.7,345.3 545.7,356.1 546.7,337.4 547.7,351.8 548.7,357.3 549.7,338.7 550.7,330.0 551.7,349.1 552.7,389.2 553.7,391.1 554.7,392.6 555.7,388.3 556.7,332.8 557.7,344.5 558.7,357.5 559.7,352.5 560.7,359.2 561.7,344.0 562.7,330.7 563.7,342.3 564.7,362.9 565.7,364.0 566.7,354.2 567.7,389.3 568.7,393.5 569.7,354.7 570.7,342.9 571.7,350.8 572.7,348.3 573.7,393.5 574.7,337.8 575.7,379.1 576.7,393.5 577.7,337.3 578.7,367.1 579.7,342.8 580.7,363.7 581.7,375.8 582.7,349.0 583.7,367.1 584.7,358.2 585.7,321.2 586.7,387.2 587.7,380.4 588.7,361.8 589.7,393.5 590.7,350.2 591.7,353.7 592.7,393.5 593.7,354.8 594.7,328.4 595.7,348.8 596.7,384.4 597.7,385.7 598.7,372.5 599.7,356.7 600.7,360.5 601.7,359.4" fill="none" stroke="#FFFF00" stroke-width="1" stroke-linecap="square"/>
<polyline points="605.5,384.6 606.5,333.7 607.5,348.8 608.5,369.1 609.5,346.7 610.5,357.0" fill="none" stroke="#FFFF00" stroke-width="1" stroke-linecap="square"/>
<polyline points="420.5,340.5 421.5,350.5 422.5,318.5 423.0,345.5 424.0,300.5 424.9,282.5 425.5,300.5 426.0,290.5 426.8,284.5 427.5,310.5 428.5,297.5 428.9,330.5" fill="none" stroke="#FFFF00" stroke-width="1" stroke-linecap="square"/>
<polyline points="435.1,330.5 434.9,287.5 435.5,300.5 436.5,315.5 437.5,335.5 438.5,320.5 439.5,340.5 440.5,301.5 441.5,328.5 442.5,319.5 443.5,343.5 444.5,322.5 445.5,307.5 446.5,322.5 447.5,345.5 448.5,330.5 449.5,350.5" fill="none" stroke="#FFFF00" stroke-width="1" stroke-linecap="square"/>
<polyline points="458.0,393.5 458.5,341.5 460.0,393.5 461.0,326.5 462.0,354.5 463.5,340.5 465.0,380.5 466.1,300.5 466.5,393.5 466.8,281.5 467.3,393.5 467.8,290.5 468.5,360.5" fill="none" stroke="#FFFF00" stroke-width="1" stroke-linecap="square"/>
<polyline points="121.5,324.1 122.8,335.6 124.0,339.3 125.3,348.7 126.6,361.8 127.8,342.5 129.1,337.9 130.3,334.1 131.6,318.8 132.9,355.1 134.1,336.7 135.4,342.9 136.6,320.1 137.9,344.6 139.2,311.3 140.4,329.5 141.7,321.0 142.9,338.7 144.2,328.4 145.5,336.1 146.7,347.1 148.0,342.1 149.2,342.9 150.5,345.5 151.8,327.9 153.0,342.4 154.3,333.1 155.5,343.1 156.8,329.1 158.1,327.8" fill="none" stroke="#FF0000" stroke-width="1" stroke-linecap="square"/>
<polyline points="191.5,341.2 192.7,323.4 194.0,348.3 195.3,347.3 196.5,335.3 197.8,349.1 199.0,346.6 200.3,333.6" fill="none" stroke="#FF0000" stroke-width="1" stroke-linecap="square"/>
<polyline points="203.4,317.0 204.7,335.9 205.9,319.1 207.2,334.0" fill="none" stroke="#FF0000" stroke-width="1" stroke-linecap="square"/>
<polyline points="232.5,330.0 233.8,330.9 235.0,348.2 236.3,357.7 237.6,326.1 238.8,335.7" fill="none" stroke="#FF0000" stroke-width="1" stroke-linecap="square"/>
<polyline points="249.8,343.1 251.1,348.9 252.4,329.2 253.6,319.1 254.9,349.4" fill="none" stroke="#FF0000" stroke-width="1" stroke-linecap="square"/>
<polyline points="260.1,312.0 261.4,345.3 262.7,329.4 263.9,336.1 265.2,341.9 266.4,343.5 267.7,344.9 269.0,328.9 270.2,325.8 271.5,393.0" fill="none" stroke="#FF0000" stroke-width="1" stroke-linecap="square"/>
<polyline points="275.6,316.0 276.8,347.0 278.1,350.1 279.4,351.3 280.6,342.0 281.9,343.6 283.1,331.1 284.4,389.0 285.7,328.2 286.9,318.6 288.2,341.2 289.4,333.5 290.7,381.0 292.0,338.7 293.2,338.3" fill="none" stroke="#FF0000" stroke-width="1" stroke-linecap="square"/>
<polyline points="300.4,393.5 301.6,339.2 302.9,346.4 304.1,342.4 305.4,357.7 306.7,340.8 307.9,339.7 309.2,334.1 310.4,337.8 311.7,348.7 313.0,316.0 314.2,349.0 315.5,360.1 316.7,338.3 318.0,329.2 319.3,341.5 320.5,330.5 321.8,325.4 323.0,334.8 324.3,339.2 325.6,340.5 326.8,335.9 328.1,328.8 329.3,331.2 330.6,326.3 331.9,345.1 333.1,335.3 334.4,342.7 335.6,324.2 336.9,326.9 338.2,337.2 339.4,341.2 340.7,318.1 341.9,340.1 343.2,344.6 344.5,327.1 345.7,345.3 347.0,348.9 348.2,331.1 349.5,340.6 350.8,343.3 352.0,335.2 353.3,337.8 354.5,335.7 355.8,327.6" fill="none" stroke="#FF0000" stroke-width="1" stroke-linecap="square"/>
<polyline points="357.6,345.8 358.9,362.8 360.1,333.6 361.4,332.1 362.6,342.4 363.9,336.6 365.2,333.3 366.4,319.6 367.7,333.9 368.9,330.9 370.2,314.0 371.5,322.8 372.7,332.8 374.0,329.2 375.2,349.1 376.5,331.6 377.8,340.8 379.0,339.9 380.3,328.9 381.5,323.7 382.8,345.2" fill="none" stroke="#FF0000" stroke-width="1" stroke-linecap="square"/>
<polyline points="388.6,334.9 389.8,351.6 391.1,362.0 392.3,339.0 393.6,330.5 394.9,331.6 396.1,351.1 397.4,337.9 398.6,312.3 399.9,316.1 401.2,331.7 402.4,359.7 403.7,345.4 404.9,349.9 406.2,326.1 407.5,325.2 408.7,339.8 410.0,343.3 411.2,339.1 412.5,315.4 413.8,333.3 415.0,344.0 416.3,345.4 417.5,339.3 418.8,335.9" fill="none" stroke="#FF0000" stroke-width="1" stroke-linecap="square"/>
<polyline points="420.4,334.8 421.7,328.4 423.0,328.4 424.2,326.6 425.5,331.0 426.7,344.4 428.0,327.2" fill="none" stroke="#FF0000" stroke-width="1" stroke-linecap="square"/>
<polyline points="435.1,313.9 436.4,322.0 437.7,333.6 438.9,344.8 440.2,327.8 441.4,338.0 442.7,347.0 444.0,323.3 445.2,330.6 446.5,307.0 447.7,339.0 449.0,334.4" fill="none" stroke="#FF0000" stroke-width="1" stroke-linecap="square"/>
<polyline points="457.7,321.0 459.4,345.0 461.1,346.2 462.8,324.3 464.5,302.0 466.2,344.4 467.9,349.1" fill="none" stroke="#FF0000" stroke-width="1" stroke-linecap="square"/>
<polyline points="477.6,335.3 479.2,347.2 480.8,358.9 482.4,340.0 484.0,349.3 485.6,366.8 487.2,332.8 488.8,343.6 490.4,335.3 492.0,340.4 493.6,354.3 495.2,341.9 496.8,329.4 498.4,333.8 500.0,334.6 501.6,345.0 503.2,383.8 504.8,333.9 506.4,341.4 508.0,342.2 509.6,339.5 511.2,353.9 512.8,356.4 514.4,336.6 516.0,353.1" fill="none" stroke="#FF0000" stroke-width="1" stroke-linecap="square"/>
<polyline points="526.1,318.0 527.4,393.0 528.6,348.7 529.9,323.4 531.2,340.2 532.4,353.7 533.7,361.7 534.9,334.0 536.2,333.3 537.5,348.1 538.7,326.2 540.0,366.9 541.2,348.7 542.5,346.7 543.8,343.7 545.0,345.4 546.3,334.6 547.5,337.2 548.8,331.9 550.1,335.3 551.3,333.3 552.6,341.5 553.8,341.7 555.1,333.7 556.4,350.1 557.6,390.2 558.9,348.8 560.1,341.3 561.4,338.3 562.7,356.2 563.9,393.5 565.2,319.9 566.4,332.7 567.7,354.8 569.0,338.3 570.2,328.1 571.5,329.9 572.7,320.4 574.0,389.0 575.3,334.4 576.5,340.5 577.8,345.4 579.0,339.1 580.3,318.0 581.6,334.0 582.8,334.9 584.1,355.5 585.3,327.0 586.6,341.7 587.9,335.3 589.1,356.2 590.4,336.2 591.6,321.2 592.9,329.7 594.2,342.0 595.4,335.9 596.7,345.4 597.9,340.1 599.2,344.1 600.5,333.5 601.7,331.8" fill="none" stroke="#FF0000" stroke-width="1" stroke-linecap="square"/>
<polyline points="605.2,337.5 606.5,343.1 607.8,337.0 609.0,352.6 610.3,358.2" fill="none" stroke="#FF0000" stroke-width="1" stroke-linecap="square"/>
<path d="M121 270.5h3M124 269.5h2M126 270.5h3" stroke="#0000FF" stroke-width="1" fill="none"/>
<path d="M132 270.5h6M138 271.5h1M139 270.5h7M146 269.5h2M148 270.5h6M154 269.5h2M156 270.5h3" stroke="#0000FF" stroke-width="1" fill="none"/>
<path d="M191 270.5h5M196 269.5h1M197 270.5h4" stroke="#0000FF" stroke-width="1" fill="none"/>
<path d="M203 270.5h5" stroke="#0000FF" stroke-width="1" fill="none"/>
<path d="M232 270.5h4M236 269.5h2M238 270.5h1" stroke="#0000FF" stroke-width="1" fill="none"/>
<path d="M249 270.5h6" stroke="#0000FF" stroke-width="1" fill="none"/>
<path d="M260 270.5h6M266 269.5h1M267 270.5h5" stroke="#0000FF" stroke-width="1" fill="none"/>
<path d="M275 270.5h6M281 269.5h1M282 270.5h4M286 271.5h2M288 270.5h6" stroke="#0000FF" stroke-width="1" fill="none"/>
<path d="M300 270.5h5M305 269.5h2M307 270.5h5M312 269.5h2M314 270.5h4M318 269.5h1M319 270.5h5M324 271.5h1M325 270.5h4M329 269.5h2M331 270.5h4M335 269.5h1M336 270.5h4M340 271.5h1M341 270.5h4M345 271.5h2M347 270.5h3M350 269.5h1M351 270.5h7M358 271.5h2M360 270.5h6M366 271.5h1M367 270.5h9M376 269.5h2M378 270.5h6" stroke="#0000FF" stroke-width="1" fill="none"/>
<path d="M387 272.5h5M392 271.5h2M394 272.5h4M398 273.5h1M399 272.5h8M407 271.5h1M408 272.5h6M414 271.5h1M415 272.5h8M423 273.5h1M424 272.5h4" stroke="#0000FF" stroke-width="1" fill="none"/>
<path d="M435 272.5h5M440 271.5h2M442 272.5h8" stroke="#0000FF" stroke-width="1" fill="none"/>
<path d="M454 272.5h4M458 271.5h1M459 272.5h6M465 273.5h1M466 272.5h4" stroke="#0000FF" stroke-width="1" fill="none"/>
<path d="M477 271.5h4M481 270.5h2M483 271.5h5" stroke="#0000FF" stroke-width="1" fill="none"/>
<path d="M488 270.5h4M492 271.5h1M493 270.5h7M500 269.5h1M501 270.5h4M505 271.5h1M506 270.5h4M510 269.5h1M511 270.5h7" stroke="#0000FF" stroke-width="1" fill="none"/>
<path d="M525 270.5h6M531 271.5h1M532 270.5h7M539 269.5h2M541 270.5h7M548 271.5h1M549 270.5h8M557 271.5h2M559 270.5h6M565 269.5h1M566 270.5h8M574 269.5h1M575 270.5h5M580 269.5h2M582 270.5h8M590 269.5h2M592 270.5h5M597 269.5h1M598 270.5h4" stroke="#0000FF" stroke-width="1" fill="none"/>
<path d="M606 270.5h5" stroke="#0000FF" stroke-width="1" fill="none"/>
</g>
<rect x="40" y="431" width="204" height="46" fill="#000"/>
<rect x="38" y="429" width="203" height="46" fill="#000"/>
<rect x="39" y="430" width="201" height="44" fill="#fff"/>
<rect x="456" y="431" width="117" height="46" fill="#000"/>
<rect x="454" y="429" width="117" height="46" fill="#000"/>
<rect x="455" y="430" width="115" height="44" fill="#fff"/>
<rect x="47" y="442" width="36" height="1" fill="#000"/>
<rect x="47" y="455" width="36" height="1" fill="#FF0000"/>
<rect x="139" y="442" width="36" height="1" fill="#FFFF00"/>
<rect x="139" y="455" width="36" height="1" fill="#0000FF"/>
<rect x="463" y="434" width="36" height="9" fill="#70DB70"/>
<rect x="463" y="447" width="36" height="9" fill="#F4A460"/>
<rect x="463" y="460" width="36" height="9" fill="#FFB6C1"/>
<text y="17" font-size="16" font-family="Liberation Sans, sans-serif" fill="#000" ><tspan x="112.40" textLength="78.89" lengthAdjust="spacingAndGlyphs">University</tspan> <tspan x="200.49" textLength="14.45" lengthAdjust="spacingAndGlyphs">of</tspan> <tspan x="224.16" textLength="72.75" lengthAdjust="spacingAndGlyphs">Maryland</tspan></text>
<text y="17" font-size="16" font-family="Liberation Sans, sans-serif" fill="#000" ><tspan x="347.31" textLength="27.25" lengthAdjust="spacingAndGlyphs">IMP</tspan><tspan x="373.44" textLength="15.71" lengthAdjust="spacingAndGlyphs">-</tspan><tspan x="389.63" textLength="8.54" lengthAdjust="spacingAndGlyphs">8</tspan></text>
<text y="17" font-size="16" font-family="Liberation Sans, sans-serif" fill="#000" ><tspan x="449.08" textLength="30.97" lengthAdjust="spacingAndGlyphs">Nov</tspan> <tspan x="490.02" textLength="18.30" lengthAdjust="spacingAndGlyphs">19</tspan> <tspan x="518.52" textLength="15.21" lengthAdjust="spacingAndGlyphs">to</tspan> <tspan x="541.89" textLength="29.84" lengthAdjust="spacingAndGlyphs">Dec</tspan> <tspan x="582.77" textLength="6.19" lengthAdjust="spacingAndGlyphs">1</tspan></text>
<text y="32" font-size="13" font-family="Liberation Sans, sans-serif" fill="#000" ><tspan x="32.54" textLength="48.72" lengthAdjust="spacingAndGlyphs">1.e+02</tspan></text>
<text y="121" font-size="13" font-family="Liberation Sans, sans-serif" fill="#000" ><tspan x="32.85" textLength="46.07" lengthAdjust="spacingAndGlyphs">1.e+01</tspan></text>
<text y="213.3" font-size="13" font-family="Liberation Sans, sans-serif" fill="#000" ><tspan x="68.59" textLength="12.54" lengthAdjust="spacingAndGlyphs">1.</tspan></text>
<text y="305.5" font-size="13" font-family="Liberation Sans, sans-serif" fill="#000" ><tspan x="59.47" textLength="19.25" lengthAdjust="spacingAndGlyphs">0.1</tspan></text>
<text y="393.3" font-size="13" font-family="Liberation Sans, sans-serif" fill="#000" ><tspan x="51.19" textLength="28.23" lengthAdjust="spacingAndGlyphs">0.01</tspan></text>
<text y="415" font-size="13" font-family="Liberation Sans, sans-serif" fill="#000" ><tspan x="65.56" textLength="25.07" lengthAdjust="spacingAndGlyphs">Nov</tspan> <tspan x="98.52" textLength="14.12" lengthAdjust="spacingAndGlyphs">19</tspan></text>
<text y="415" font-size="13" font-family="Liberation Sans, sans-serif" fill="#000" ><tspan x="146.33" textLength="24.54" lengthAdjust="spacingAndGlyphs">Nov</tspan> <tspan x="176.77" textLength="15.18" lengthAdjust="spacingAndGlyphs">21</tspan></text>
<text y="415" font-size="13" font-family="Liberation Sans, sans-serif" fill="#000" ><tspan x="227.58" textLength="24.54" lengthAdjust="spacingAndGlyphs">Nov</tspan> <tspan x="258.72" textLength="16.16" lengthAdjust="spacingAndGlyphs">23</tspan></text>
<text y="415" font-size="13" font-family="Liberation Sans, sans-serif" fill="#000" ><tspan x="307.58" textLength="24.54" lengthAdjust="spacingAndGlyphs">Nov</tspan> <tspan x="338.68" textLength="16.98" lengthAdjust="spacingAndGlyphs">25</tspan></text>
<text y="415" font-size="13" font-family="Liberation Sans, sans-serif" fill="#000" ><tspan x="389.23" textLength="24.49" lengthAdjust="spacingAndGlyphs">Nov</tspan> <tspan x="420.20" textLength="16.56" lengthAdjust="spacingAndGlyphs">27</tspan></text>
<text y="415" font-size="13" font-family="Liberation Sans, sans-serif" fill="#000" ><tspan x="469.33" textLength="24.54" lengthAdjust="spacingAndGlyphs">Nov</tspan> <tspan x="500.45" textLength="16.56" lengthAdjust="spacingAndGlyphs">29</tspan></text>
<text y="415" font-size="13" font-family="Liberation Sans, sans-serif" fill="#000" ><tspan x="554.61" textLength="23.97" lengthAdjust="spacingAndGlyphs">Dec</tspan> <tspan x="586.35" textLength="5.04" lengthAdjust="spacingAndGlyphs">1</tspan></text>
<text y="443" font-size="13" font-family="Liberation Sans, sans-serif" fill="#000" ><tspan x="310.38" textLength="30.49" lengthAdjust="spacingAndGlyphs">Date</tspan> <tspan x="347.52" textLength="46.19" lengthAdjust="spacingAndGlyphs">(1994)</tspan></text>
<text transform="translate(21.2,246.6) rotate(-90)" y="0" font-size="13" font-family="Liberation Sans, sans-serif" fill="#000"><tspan x="-0.75" textLength="44.38" lengthAdjust="spacingAndGlyphs">Counts</tspan><tspan x="45.70" textLength="5.92" lengthAdjust="spacingAndGlyphs">/</tspan><tspan x="53.19" textLength="22.92" lengthAdjust="spacingAndGlyphs">Sec</tspan></text>
<text y="443" font-size="12" font-family="Liberation Sans, sans-serif" fill="#000" ><tspan x="87.99" textLength="14.79" lengthAdjust="spacingAndGlyphs">P3</tspan></text>
<text y="456" font-size="12" font-family="Liberation Sans, sans-serif" fill="#000" ><tspan x="87.77" textLength="30.41" lengthAdjust="spacingAndGlyphs">P5/4</tspan></text>
<text y="443" font-size="12" font-family="Liberation Sans, sans-serif" fill="#000" ><tspan x="179.60" textLength="14.73" lengthAdjust="spacingAndGlyphs">P7</tspan></text>
<text y="456" font-size="12" font-family="Liberation Sans, sans-serif" fill="#000" ><tspan x="179.89" textLength="50.69" lengthAdjust="spacingAndGlyphs">A2/1000</tspan></text>
<text y="443" font-size="12" font-family="Liberation Sans, sans-serif" fill="#000" ><tspan x="509.66" textLength="54.29" lengthAdjust="spacingAndGlyphs">Upstream</tspan></text>
<text y="456" font-size="12" font-family="Liberation Sans, sans-serif" fill="#000" ><tspan x="509.58" textLength="49.25" lengthAdjust="spacingAndGlyphs">M&#39;sheath</tspan></text>
<text y="469" font-size="12" font-family="Liberation Sans, sans-serif" fill="#000" ><tspan x="509.58" textLength="49.75" lengthAdjust="spacingAndGlyphs">M&#39;sphere</tspan></text>
</svg>
</body></html>
